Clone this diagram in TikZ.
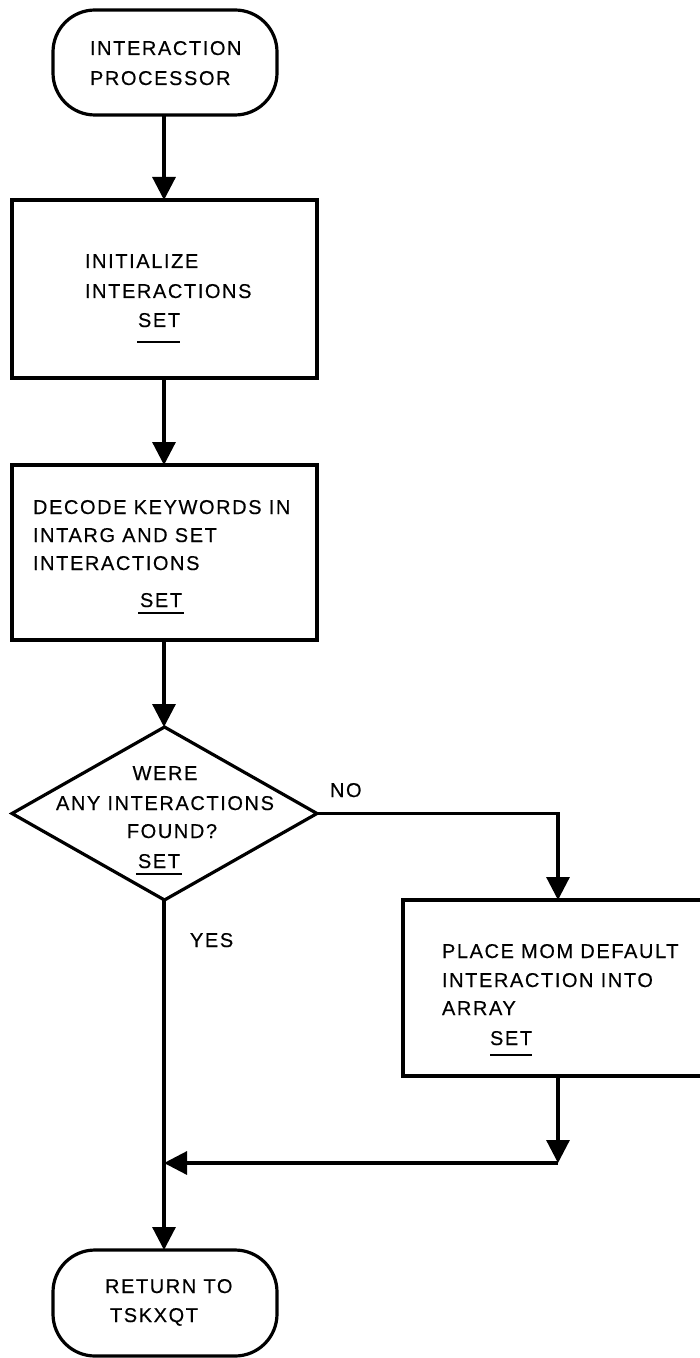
\documentclass[tikz,border=0pt]{standalone}
\usepackage{fontspec}
\newfontfamily\flowfont{Liberation Sans}[LetterSpace=8,FakeBold=0.4]
\usetikzlibrary{arrows.meta,shapes.geometric,calc}

\begin{document}
\begin{tikzpicture}[x=0.5pt,y=-0.5pt,
  every node/.style={inner sep=0pt,outer sep=0pt},
  lbl/.style={font=\flowfont\fontsize{10pt}{14pt}\selectfont,anchor=base west},
  lblc/.style={lbl,anchor=base},
  flowline/.style={line width=1.6pt},
  arr/.style={flowline,-{Triangle[width=11.5pt,length=11.5pt]}},
  procbox/.style={draw,line width=1.6pt,rectangle},
  term/.style={draw,line width=1.6pt,rectangle,rounded corners=21pt},
  decision/.style={draw,line width=1.6pt,diamond},
  ul/.style={line width=1.3pt}]

\useasboundingbox (0,0) rectangle (700,1358);
\clip (0,0) rectangle (700,1358);

% shapes
\node[term,minimum width=112pt,minimum height=52.5pt] (t0) at (165,62.5) {};
\node[procbox,minimum width=152.5pt,minimum height=89pt] (b1) at (164.5,289) {};
\node[procbox,minimum width=152.5pt,minimum height=87.5pt] (b2) at (164.5,552.5) {};
\node[decision,minimum width=152.5pt,minimum height=86.5pt] (d) at (164.5,813.5) {};
\node[procbox,minimum width=178.5pt,minimum height=88pt] (b3) at (581.5,988) {};
\node[term,minimum width=112pt,minimum height=53pt] (tb) at (165,1303) {};

% texts
\node[lbl] (t0a) at (90,55) {INTERACTION};
\node[lbl] (t0b) at (90,85) {PROCESSOR};

\node[lbl] (b1a) at (85,268) {INITIALIZE};
\node[lbl] (b1b) at (85,298) {INTERACTIONS};
\node[lbl] (b1s) at (138,327) {SET};

\node[lbl] (b2a) at (33,514) {DECODE KEYWORDS IN};
\node[lbl] (b2b) at (33,542) {INTARG AND SET};
\node[lbl] (b2c) at (33,570) {INTERACTIONS};
\node[lbl] (b2s) at (140,607) {SET};

\node[lblc] (da) at (165,780) {WERE};
\node[lblc] (db) at (165,810) {ANY INTERACTIONS};
\node[lblc] (dc) at (172,838) {FOUND?};
\node[lblc] (ds) at (159,868) {SET};

\node[lbl] (b3a) at (442,958) {PLACE MOM DEFAULT};
\node[lbl] (b3b) at (442,987) {INTERACTION INTO};
\node[lbl] (b3c) at (442,1015) {ARRAY};
\node[lbl] (b3s) at (490,1045) {SET};

\node[lbl] (tba) at (105,1293) {RETURN TO};
\node[lbl] (tbb) at (110,1322) {TSKXQT};

\node[lbl] (yes) at (190,947) {YES};
\node[lbl] (no) at (330,797) {NO};

% underlines
\draw[ul] ($(b1s.base west)+(-1,15)$) -- ($(b1s.base east)+(0,15)$);
\draw[ul] ($(b2s.base west)+(-2,6)$) -- ($(b2s.base east)+(2,6)$);
\draw[ul] ($(ds.base west)+(-2,6)$) -- ($(ds.base east)+(2,6)$);
\draw[ul] ($(b3s.base west)+(0,10)$) -- ($(b3s.base east)+(0,10)$);

% connectors
\coordinate (k) at (558,1163);
\coordinate (j) at (164,1163);
\draw[arr] (t0.south -| j) -- (b1.north -| j);
\draw[arr] (b1.south -| j) -- (b2.north -| j);
\draw[arr] (b2.south -| j) -- (d.north -| j);
\draw[arr] (d.south -| j) -- (tb.north -| j);
\draw[arr] (d.east) -- (d.east -| k) -- (b3.north west -| k);
\draw[arr] (b3.south west -| k) -- (k);
\draw[arr] (k) -- (j);
\end{tikzpicture}
\end{document}
